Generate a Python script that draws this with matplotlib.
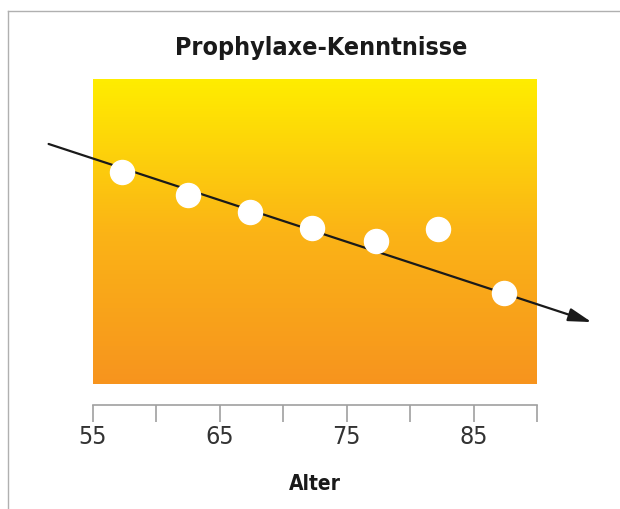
import numpy as np
import matplotlib
matplotlib.use('Agg')
import matplotlib.pyplot as plt
from matplotlib.colors import LinearSegmentedColormap
from matplotlib.lines import Line2D

# Daten (Alter in Jahren, Kenntnis-Score 0..1, ohne y-Achse)
alter = [57.3, 62.5, 67.4, 72.3, 77.3, 82.2, 87.4]
kenntnisse = [0.695, 0.62, 0.564, 0.511, 0.469, 0.508, 0.298]
trend_x = [51.5, 94.3]
trend_y = [0.787, 0.203]
ticks = [55, 60, 65, 70, 75, 80, 85, 90]
tick_labels = ['55', '', '65', '', '75', '', '85', '']

plt.rcParams['font.family'] = ['DejaVu Sans']
plt.rcParams['font.stretch'] = 'condensed'

fig = plt.figure(figsize=(6.2, 5.1), dpi=100)
ax = fig.add_axes([93/620, 1-385/510, 444/620, 305/510])

# Verlauf gelb -> orange
cmap = LinearSegmentedColormap.from_list('gelb', ['#f7941e', '#fbb416', '#ffed00'])
grad = np.linspace(0, 1, 256).reshape(-1, 1)
ax.imshow(grad, cmap=cmap, origin='lower', aspect='auto',
          extent=[55, 90, 0, 1], zorder=0)

ax.set_xlim(55, 90)
ax.set_ylim(0, 1)

# Trendpfeil
ax.annotate('', xy=(trend_x[1], trend_y[1]), xytext=(trend_x[0], trend_y[0]),
            arrowprops=dict(arrowstyle='-|>,head_length=1.4,head_width=0.4',
                            color='#1a1a1a', lw=1.6, shrinkA=0, shrinkB=0),
            annotation_clip=False, zorder=2)

ax.scatter(alter, kenntnisse, s=300, color='white', zorder=3, clip_on=False)

for s in ['top', 'right', 'left']:
    ax.spines[s].set_visible(False)
ax.spines['bottom'].set_position(('outward', 15))
ax.spines['bottom'].set_color('#a0a0a0')
ax.spines['bottom'].set_linewidth(1.2)
ax.set_yticks([])
ax.set_xticks(ticks)
ax.set_xticklabels(tick_labels)
ax.tick_params(axis='x', length=12, width=1.2, color='#a0a0a0',
               labelsize=18, labelcolor='#333333', pad=2)
for lbl in ax.get_xticklabels():
    lbl.set_fontweight('light')
ax.set_xlabel('Alter', fontsize=15, fontweight='bold', color='#1a1a1a', labelpad=18)

fig.text(321/620, 1-48/510, 'Prophylaxe-Kenntnisse', ha='center', va='center',
         fontsize=18, fontweight='bold', color='#1a1a1a')

# Rahmen oben/links
fig.add_artist(Line2D([8/620, 8/620], [0, 1-12/510], transform=fig.transFigure,
                      color='#b0b0b0', lw=1))
fig.add_artist(Line2D([8/620, 1], [1-12/510, 1-12/510], transform=fig.transFigure,
                      color='#b0b0b0', lw=1))

fig.savefig('out.png', dpi=100)
